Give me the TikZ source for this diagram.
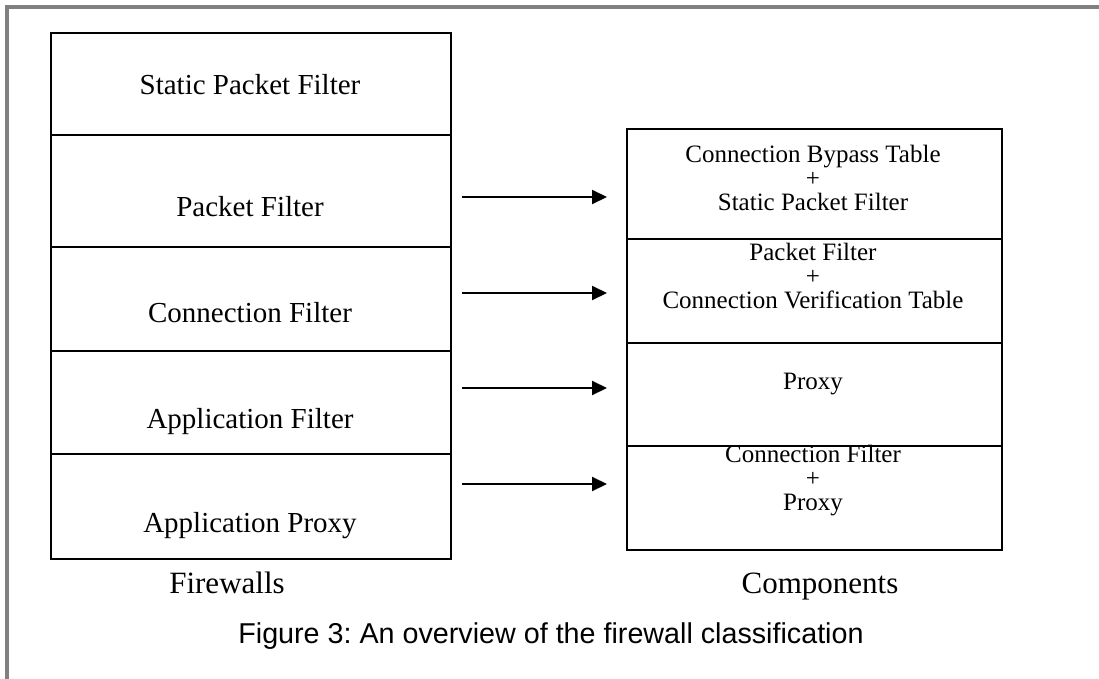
\documentclass[tikz,border=0pt]{standalone}
\usepackage{fontspec}
\setmainfont{Liberation Serif}
\newfontfamily\captionfont{Liberation Sans}
\usetikzlibrary{arrows.meta}
\frenchspacing

\tikzset{
  cell/.style={draw=black, line width=2pt, rectangle, inner sep=0pt},
  lefttext/.style={font=\fontsize{29}{32}\selectfont, inner sep=0pt, anchor=base},
  righttext/.style={font=\fontsize{25}{24}\selectfont, inner sep=0pt, align=center},
  headtext/.style={font=\fontsize{31}{34}\selectfont, inner sep=0pt, anchor=base},
  maparrow/.style={line width=2pt, -{Triangle[length=15pt,width=14pt]}},
  frame/.style={draw=black!50, line width=4pt}
}

\begin{document}
\begin{tikzpicture}[x=1pt,y=-1pt]
  \useasboundingbox (0,0) rectangle (1099,679);
  \fill[white] (0,0) rectangle (1099,679);

  % page frame (top and left edges)
  \draw[frame] (7,679) -- (7,7) -- (1099,7);

  % left column: firewall types
  \node[cell, minimum width=400pt, minimum height=102pt, anchor=north west] (f1) at (50,32) {};
  \node[cell, minimum width=400pt, minimum height=112pt, anchor=north west] (f2) at (50,134) {};
  \node[cell, minimum width=400pt, minimum height=104pt, anchor=north west] (f3) at (50,246) {};
  \node[cell, minimum width=400pt, minimum height=103pt, anchor=north west] (f4) at (50,350) {};
  \node[cell, minimum width=400pt, minimum height=105pt, anchor=north west] (f5) at (50,453) {};

  \node[lefttext] (t1) at (250,95) {Static Packet Filter};
  \node[lefttext] (t2) at (250,216) {Packet Filter};
  \node[lefttext] (t3) at (250,322) {Connection Filter};
  \node[lefttext] (t4) at (250,428) {Application Filter};
  \node[lefttext] (t5) at (250,532) {Application Proxy};

  % right column: components
  \node[cell, minimum width=375pt, minimum height=110pt, anchor=north west] (c1) at (626,128) {};
  \node[cell, minimum width=375pt, minimum height=104pt, anchor=north west] (c2) at (626,238) {};
  \node[cell, minimum width=375pt, minimum height=103pt, anchor=north west] (c3) at (626,342) {};
  \node[cell, minimum width=375pt, minimum height=104pt, anchor=north west] (c4) at (626,445) {};

  \node[righttext] (r1) at (813,178) {Connection Bypass Table\\+\\Static Packet Filter};
  \node[righttext] (r2) at (813,276) {Packet Filter\\+\\Connection Verification Table};
  \node[righttext] (r3) at (813,384) {Proxy};
  \node[righttext] (r4) at (813,481) {Connection Filter\\+\\Proxy};

  % mapping arrows
  \coordinate (a1s) at (462,197); \coordinate (a1e) at (607,197);
  \coordinate (a2s) at (462,293); \coordinate (a2e) at (607,293);
  \coordinate (a3s) at (462,388); \coordinate (a3e) at (607,388);
  \coordinate (a4s) at (462,484); \coordinate (a4e) at (607,484);
  \draw[maparrow] (a1s) -- (a1e);
  \draw[maparrow] (a2s) -- (a2e);
  \draw[maparrow] (a3s) -- (a3e);
  \draw[maparrow] (a4s) -- (a4e);

  % column headings and caption
  \node[headtext] (h1) at (227,593) {Firewalls};
  \node[headtext] (h2) at (820,593) {Components};
  \node[font=\captionfont\fontsize{28.7}{31}\selectfont, inner sep=0pt] (cap) at (551,636) {Figure 3: An overview of the firewall classification};
\end{tikzpicture}
\end{document}
